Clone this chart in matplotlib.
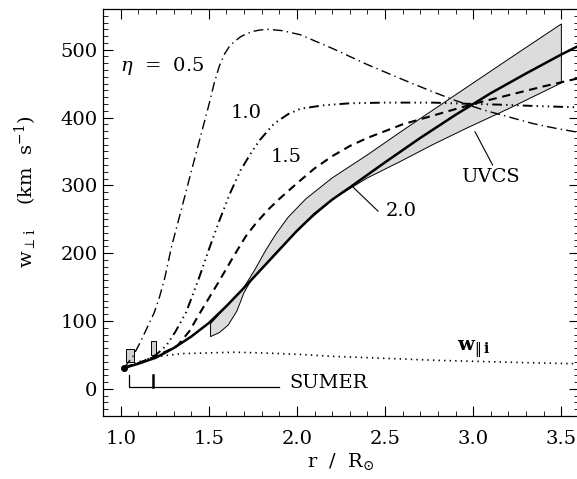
import numpy as np
import matplotlib
matplotlib.use('Agg')
import matplotlib.pyplot as plt
from matplotlib.ticker import MultipleLocator

plt.rcParams['font.family'] = 'DejaVu Serif'
plt.rcParams['mathtext.fontset'] = 'dejavuserif'
plt.rcParams['lines.scale_dashes'] = False

#### curves (r / Rsun, km/s) ####
x_05 = [1.02, 1.07, 1.11, 1.15, 1.19, 1.22, 1.25, 1.29, 1.35, 1.39, 1.45, 1.50, 1.53, 1.56,
        1.59, 1.62, 1.65, 1.68, 1.71, 1.75, 1.79, 1.84, 1.92, 2.02, 2.2, 2.4, 2.6, 2.77,
        2.9, 3.06, 3.2, 3.34, 3.47, 3.6]
y_05 = [31, 48, 68, 90, 112, 135, 163, 211, 270, 310, 369, 418, 450, 476,
        494, 506, 513, 519, 523, 527, 529, 530, 528, 522, 502, 478, 456, 438,
        425, 411, 401, 391, 384, 378]

x_10 = [1.02, 1.08, 1.14, 1.20, 1.26, 1.31, 1.37, 1.44, 1.50, 1.56, 1.62, 1.68, 1.74,
        1.79, 1.87, 1.95, 2.02, 2.15, 2.3, 2.5, 2.77, 3.0, 3.15, 3.35, 3.6]
y_10 = [31, 36, 42, 50, 64, 84, 112, 160, 205, 248, 288, 322, 348,
        367, 391, 405, 413, 418, 421, 422, 422, 420, 419, 417, 415]

x_15 = [1.02, 1.1, 1.2, 1.32, 1.39, 1.45, 1.55, 1.64, 1.71, 1.77, 1.84, 1.90, 2.0,
        2.1, 2.2, 2.3, 2.4, 2.5, 2.6, 2.8, 3.0, 3.2, 3.4, 3.6]
y_15 = [31, 38, 48, 63, 85, 112, 155, 195, 225, 245, 265, 280, 303,
        325, 343, 358, 370, 380, 390, 405, 420, 433, 446, 458]

x_20 = [1.02, 1.1, 1.2, 1.3, 1.4, 1.5, 1.6, 1.7, 1.8, 1.9, 2.0, 2.1, 2.2,
        2.3, 2.5, 2.7, 2.9, 3.1, 3.3, 3.5, 3.6]
y_20 = [31, 37, 46, 60, 77, 97, 122, 149, 177, 205, 233, 258, 279,
        297, 334, 370, 404, 436, 465, 493, 506]

x_par = [1.02, 1.08, 1.165, 1.25, 1.35, 1.5, 1.64, 1.8, 2.0, 2.2, 2.5, 2.8, 3.1, 3.4, 3.6]
y_par = [31, 38, 45, 49, 52, 53, 54, 53, 51, 48, 45, 42, 40, 38, 37]

#### UVCS band ####
uv_up_x = [1.51, 1.6, 1.7, 1.76, 1.82, 1.88, 1.95, 2.05, 2.2, 2.4, 2.6, 2.8, 3.0, 3.2, 3.5]
uv_up_y = [96, 122, 150, 175, 203, 228, 253, 280, 311, 345, 381, 416, 451, 486, 538]
uv_lo_x = [1.51, 1.56, 1.61, 1.66, 1.70, 1.74, 1.79, 1.90, 2.055, 2.21, 2.4, 2.585, 2.77,
           2.96, 3.2, 3.5]
uv_lo_y = [77, 83, 94, 115, 142, 160, 175, 206, 246, 281, 311, 335, 360,
           384, 413, 451]

#### SUMER boxes: (x0, x1, y0, y1) ####
sumer_boxes = [(1.028, 1.074, 40, 59), (1.175, 1.200, 50, 70)]

fig = plt.figure(figsize=(5.77, 4.79), dpi=100)
ax = fig.add_axes([103/577, 1-416/479, (579-103)/577, (416-9)/479])

# band
bx = uv_up_x + uv_lo_x[::-1]
by = uv_up_y + uv_lo_y[::-1]
ax.fill(bx, by, facecolor='#dcdcdc', edgecolor='k', linewidth=0.7, zorder=1)

for (x0, x1, y0, y1) in sumer_boxes:
    ax.fill([x0, x1, x1, x0], [y0, y0, y1, y1], facecolor='#d0d0d0',
            edgecolor='k', linewidth=0.7, zorder=1)

ax.plot(x_05, y_05, 'k', linewidth=1.0, linestyle=(0, (7, 3, 1, 3)), zorder=2)
ax.plot(x_10, y_10, 'k', linewidth=1.4, linestyle=(0, (7, 3, 1, 3, 1, 3, 1, 3)), zorder=2)
ax.plot(x_15, y_15, 'k', linewidth=1.5, linestyle=(0, (6, 4)), zorder=2)
ax.plot(x_20, y_20, 'k', linewidth=1.8, zorder=3)
ax.plot(x_par, y_par, 'k', linewidth=1.2, linestyle=(0, (1, 3)), zorder=2)
ax.plot([x_20[0]], [y_20[0]], 'ko', markersize=4, zorder=4)

# SUMER bracket
ax.plot([1.047, 1.047, 1.90], [20, 2.5, 2.5], 'k', linewidth=0.9)
ax.plot([1.185, 1.185], [2.5, 20], 'k', linewidth=1.8)
ax.text(1.96, 9, 'SUMER', fontsize=14, va='center', ha='left')

# labels
ax.text(0.995, 476, r'$\eta$  =  0.5', fontsize=14, va='center', ha='left')
ax.text(1.71, 406, '1.0', fontsize=14, va='center', ha='center')
ax.text(1.94, 342, '1.5', fontsize=14, va='center', ha='center')
ax.text(2.59, 262, '2.0', fontsize=14, va='center', ha='center')
ax.plot([2.32, 2.46], [297, 262], 'k', linewidth=0.8)
ax.text(3.10, 313, 'UVCS', fontsize=14, va='center', ha='center')
ax.plot([3.01, 3.11], [379, 330], 'k', linewidth=0.8)
ax.text(2.91, 58, r'$\mathbf{w}_{\Vert\,\mathbf{i}}$', fontsize=14, va='center', ha='left')

ax.set_xlim(0.9, 3.6)
ax.set_ylim(-40, 560)
ax.xaxis.set_minor_locator(MultipleLocator(0.1))
ax.yaxis.set_major_locator(MultipleLocator(100))
ax.yaxis.set_minor_locator(MultipleLocator(10))
ax.set_xticks([1.0, 1.5, 2.0, 2.5, 3.0, 3.5])
ax.set_xticklabels(['1.0', '1.5', '2.0', '2.5', '3.0', '3.5'])
ax.tick_params(which='both', direction='in', top=True, right=True, labelsize=14)
ax.tick_params(which='major', length=7, width=0.8)
ax.tick_params(which='minor', length=3.5, width=0.6)
ax.tick_params(axis='x', which='major', pad=10)
ax.tick_params(axis='y', which='major', pad=4)
for s in ax.spines.values():
    s.set_linewidth(0.9)

ax.set_xlabel(r'r  /  R$_{\odot}$', fontsize=14, labelpad=2)
ax.set_ylabel(r'w$_{\perp\,\mathrm{i}}$    (km  s$^{-1}$)', fontsize=14)
ax.yaxis.set_label_coords(-0.135, 0.55)

fig.savefig('out.png', dpi=100)
